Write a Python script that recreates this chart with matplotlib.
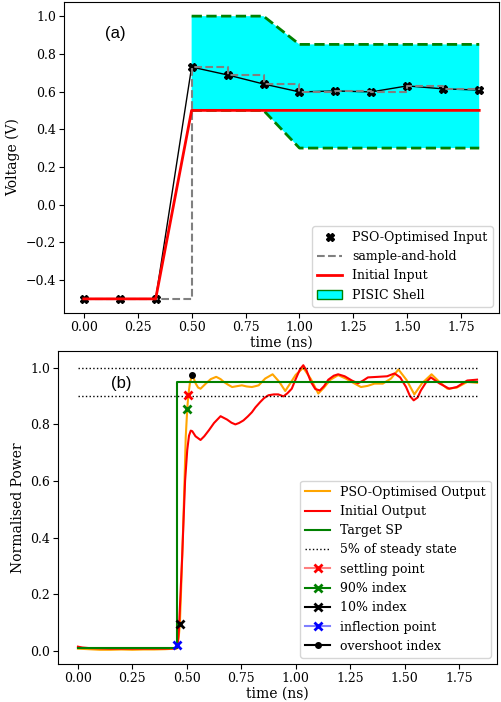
import matplotlib
matplotlib.use("Agg")
import matplotlib.pyplot as plt
from matplotlib.lines import Line2D
from matplotlib.patches import Patch

plt.rcParams['font.family'] = ['DejaVu Serif']
plt.rcParams['font.size'] = 9
plt.rcParams['axes.labelsize'] = 10
plt.rcParams['xtick.major.pad'] = 2
plt.rcParams['ytick.major.pad'] = 2

# ---------- panel (a) data ----------
t_in = [0.0, 0.1667, 0.3333, 0.5, 0.6667, 0.8333, 1.0, 1.1667, 1.3333, 1.5, 1.6667, 1.8333]
pso_in = [-0.5, -0.5, -0.5, 0.73, 0.688, 0.64, 0.598, 0.603, 0.598, 0.63, 0.614, 0.608]
init_in = [-0.5, -0.5, -0.5, 0.5, 0.5, 0.5, 0.5, 0.5, 0.5, 0.5, 0.5, 0.5]
shell_t = [0.5, 0.8333, 1.0, 1.8333]
shell_upper = [1.0, 1.0, 0.85, 0.85]
shell_lower = [0.5, 0.5, 0.3, 0.3]

# ---------- panel (b) data ----------
pso_out_t = [0.0, 0.05, 0.1, 0.15, 0.2, 0.25, 0.3, 0.35, 0.4, 0.45, 0.457, 0.463, 0.468,
             0.474, 0.48, 0.488, 0.495, 0.502, 0.507, 0.515, 0.525, 0.533, 0.541, 0.552,
             0.563, 0.575, 0.587, 0.61, 0.635, 0.655, 0.67, 0.69, 0.708, 0.73, 0.753,
             0.775, 0.799, 0.815, 0.83, 0.86, 0.894, 0.925, 0.952, 0.975, 1.0, 1.035,
             1.07, 1.104, 1.13, 1.16, 1.195, 1.23, 1.271, 1.30, 1.33, 1.362, 1.40, 1.438,
             1.472, 1.51, 1.545, 1.58, 1.624, 1.66, 1.697, 1.74, 1.788, 1.833]
pso_out_v = [0.008, 0.006, 0.004, 0.004, 0.005, 0.004, 0.005, 0.005, 0.006, 0.008, 0.02,
             0.05, 0.094, 0.22, 0.36, 0.56, 0.755, 0.855, 0.904, 0.95, 0.973, 0.96, 0.944,
             0.93, 0.926, 0.935, 0.944, 0.96, 0.968, 0.96, 0.95, 0.94, 0.932, 0.935, 0.938,
             0.934, 0.932, 0.935, 0.938, 0.962, 0.977, 0.95, 0.918, 0.945, 0.975, 1.0,
             0.96, 0.909, 0.93, 0.958, 0.974, 0.962, 0.944, 0.932, 0.936, 0.944, 0.944,
             0.962, 0.994, 0.956, 0.906, 0.945, 0.977, 0.95, 0.926, 0.93, 0.95, 0.947]

init_out_t = [0.0, 0.02, 0.05, 0.1, 0.15, 0.2, 0.25, 0.3, 0.35, 0.4, 0.45, 0.457, 0.464,
              0.479, 0.492, 0.502, 0.51, 0.518, 0.525, 0.54, 0.563, 0.58, 0.602, 0.625,
              0.655, 0.685, 0.705, 0.723, 0.74, 0.76, 0.78, 0.799, 0.815, 0.837, 0.855,
              0.875, 0.9, 0.92, 0.944, 0.962, 0.982, 1.0, 1.02, 1.035, 1.05, 1.07, 1.09,
              1.111, 1.13, 1.15, 1.175, 1.195, 1.225, 1.258, 1.286, 1.31, 1.332, 1.378,
              1.42, 1.454, 1.48, 1.507, 1.525, 1.542, 1.56, 1.575, 1.6, 1.621, 1.66, 1.705,
              1.74, 1.788, 1.833]
init_out_v = [0.015, 0.012, 0.01, 0.009, 0.008, 0.008, 0.008, 0.008, 0.008, 0.008, 0.009,
              0.01, 0.08, 0.34, 0.6, 0.71, 0.76, 0.778, 0.776, 0.758, 0.745, 0.758, 0.78,
              0.805, 0.829, 0.817, 0.806, 0.80, 0.805, 0.814, 0.828, 0.843, 0.86, 0.879,
              0.893, 0.903, 0.906, 0.906, 0.899, 0.91, 0.926, 0.96, 0.995, 1.009, 0.99,
              0.95, 0.925, 0.92, 0.935, 0.958, 0.972, 0.977, 0.97, 0.955, 0.945, 0.955,
              0.966, 0.968, 0.97, 0.98, 0.966, 0.932, 0.9, 0.885, 0.895, 0.92, 0.95, 0.966,
              0.945, 0.926, 0.932, 0.955, 0.958]

sp_t = [0.0, 0.457, 0.457, 1.833]
sp_v = [0.01, 0.01, 0.95, 0.95]
band_levels = [1.0, 0.9]
band_t = [0.0, 1.833]

settle_pt = (0.507, 0.904)
idx90_pt = (0.502, 0.855)
idx10_pt = (0.468, 0.094)
inflect_pt = (0.457, 0.020)
overshoot_pt = (0.525, 0.973)

fig = plt.figure(figsize=(5.01, 7.02), dpi=100)
ax1 = fig.add_axes([64/501, 1-313/702, (499-64)/501, (313-2)/702])
ax2 = fig.add_axes([58/501, 1-664/702, (497-58)/501, (664-351)/702])

# ---- (a)
ax1.fill_between(shell_t, shell_lower, shell_upper, facecolor='cyan', edgecolor='none')
ax1.plot(shell_t, shell_upper, color='green', ls='--', lw=2)
ax1.plot(shell_t, shell_lower, color='green', ls='--', lw=2)
ax1.plot(t_in, pso_in, color='black', lw=1)
ax1.plot(t_in, pso_in, 'X', color='black', ms=6, ls='none')
ax1.plot(t_in, pso_in, color='gray', ls='--', lw=1.5, drawstyle='steps-post')
ax1.plot(t_in, init_in, color='red', lw=2)
ax1.text(0.145, 0.907, '(a)', family='Liberation Sans', fontsize=12, ha='center', va='center')
ax1.set_xlabel('time (ns)', labelpad=1.5)
ax1.set_ylabel('Voltage (V)')
ax1.set_xticks([0, 0.25, 0.5, 0.75, 1.0, 1.25, 1.5, 1.75])
h1 = [Line2D([], [], color='black', marker='X', ls='none', ms=6),
      Line2D([], [], color='gray', ls='--', lw=1.5),
      Line2D([], [], color='red', lw=2),
      Patch(facecolor='cyan', edgecolor='green')]
ax1.legend(h1, ['PSO-Optimised Input', 'sample-and-hold', 'Initial Input', 'PISIC Shell'],
           loc='lower right')

# ---- (b)
ax2.plot(pso_out_t, pso_out_v, color='orange', lw=1.5, label='PSO-Optimised Output')
ax2.plot(init_out_t, init_out_v, color='red', lw=1.5, label='Initial Output')
ax2.plot(sp_t, sp_v, color='green', lw=1.5, label='Target SP')
for i, lv in enumerate(band_levels):
    ax2.plot(band_t, [lv, lv], color='black', ls=':', lw=1,
             label='5% of steady state' if i == 0 else None)
ax2.plot([settle_pt[0]], [settle_pt[1]], color=(1, 0, 0, 0.5), marker='x', mec='red',
         mew=2, ms=5.5, label='settling point')
ax2.plot([idx90_pt[0]], [idx90_pt[1]], color='green', marker='x', mec='green',
         mew=2, ms=5.5, label='90% index')
ax2.plot([idx10_pt[0]], [idx10_pt[1]], color='black', marker='x', mec='black',
         mew=2, ms=5.5, label='10% index')
ax2.plot([inflect_pt[0]], [inflect_pt[1]], color=(0, 0, 1, 0.5), marker='x', mec='blue',
         mew=2, ms=5.5, label='inflection point')
ax2.plot([overshoot_pt[0]], [overshoot_pt[1]], color='black', marker='o', ms=4,
         label='overshoot index')
ax2.text(0.2, 0.944, '(b)', family='Liberation Sans', fontsize=12, ha='center', va='center')
ax2.set_xlabel('time (ns)', labelpad=1.5)
ax2.set_ylabel('Normalised Power')
ax2.set_xticks([0, 0.25, 0.5, 0.75, 1.0, 1.25, 1.5, 1.75])
ax2.legend(loc='lower right')

fig.savefig('out.png', dpi=100)
